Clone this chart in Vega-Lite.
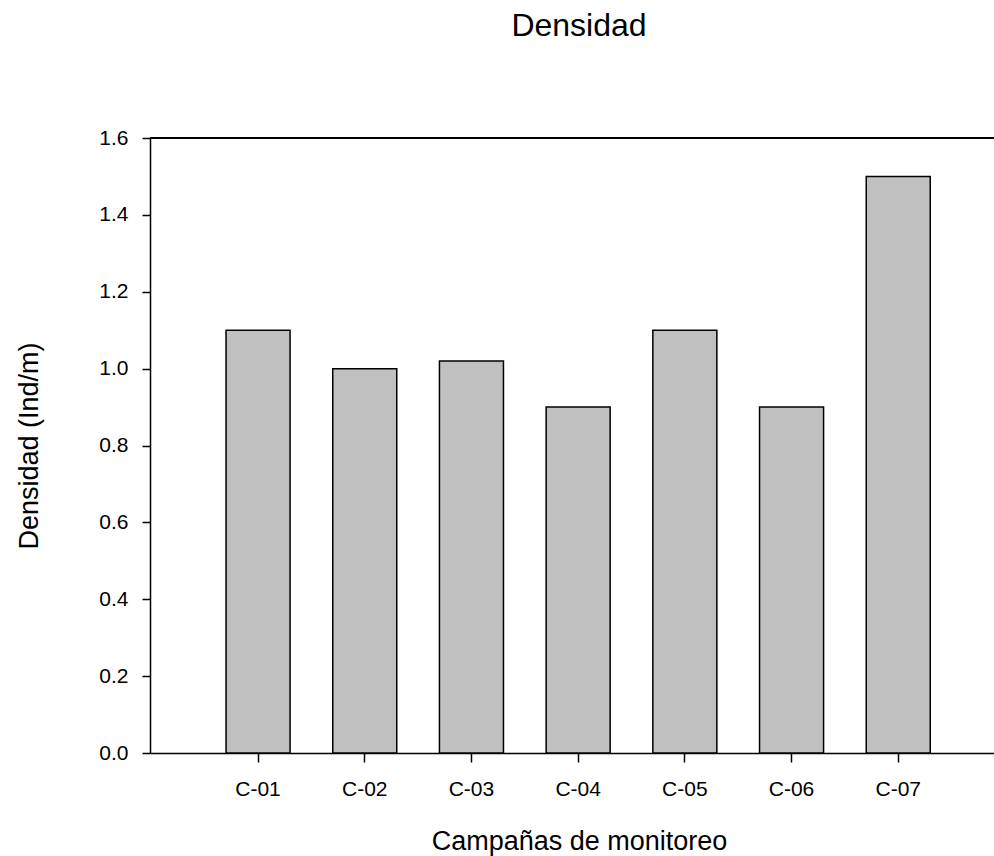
{
  "$schema": "https://vega.github.io/schema/vega-lite/v6.json",
  "autosize": "none",
  "width": 844,
  "height": 615,
  "padding": {"left": 150, "top": 138, "right": 0, "bottom": 103},
  "background": "white",
  "title": {
    "text": "Densidad",
    "font": "Liberation Sans",
    "fontSize": 32,
    "fontWeight": "normal",
    "color": "black",
    "baseline": "alphabetic",
    "offset": 59,
    "dx": 7
  },
  "config": {
    "view": {"stroke": null},
    "axis": {
      "labelFont": "Liberation Sans",
      "titleFont": "Liberation Sans",
      "labelColor": "black",
      "titleColor": "black",
      "domainColor": "black",
      "tickColor": "black",
      "grid": false,
      "titleFontWeight": "normal"
    }
  },
  "data": {
    "values": [
      {"campana": "C-01", "densidad": 1.10},
      {"campana": "C-02", "densidad": 1.00},
      {"campana": "C-03", "densidad": 1.02},
      {"campana": "C-04", "densidad": 0.90},
      {"campana": "C-05", "densidad": 1.10},
      {"campana": "C-06", "densidad": 0.90},
      {"campana": "C-07", "densidad": 1.50}
    ]
  },
  "layer": [
    {
      "mark": {"type": "bar", "fill": "#c0c0c0", "stroke": "black", "strokeWidth": 1.5},
      "encoding": {
        "x": {
          "field": "campana",
          "type": "nominal",
          "sort": null,
          "scale": {"paddingInner": 0.4, "paddingOuter": 0.655, "align": 0.544},
          "axis": {
            "title": "Campañas de monitoreo",
            "titleFontSize": 27,
            "titlePadding": 29,
            "titleX": 429,
            "labelFontSize": 21,
            "labelAngle": 0,
            "labelPadding": 16,
            "tickSize": 9,
            "tickWidth": 1.5,
            "domainWidth": 1.5
          }
        },
        "y": {
          "field": "densidad",
          "type": "quantitative",
          "scale": {"domain": [0, 1.6], "nice": false},
          "axis": {
            "title": "Densidad (Ind/m)",
            "titleFontSize": 27,
            "titlePadding": 55,
            "labelFontSize": 21,
            "labelPadding": 14,
            "values": [0, 0.2, 0.4, 0.6, 0.8, 1.0, 1.2, 1.4, 1.6],
            "format": ".1f",
            "tickSize": 8,
            "tickWidth": 1.5,
            "domainWidth": 1.5
          }
        }
      }
    },
    {
      "mark": {"type": "rule", "color": "black", "strokeWidth": 1.5},
      "encoding": {"y": {"datum": 1.6}}
    }
  ]
}
